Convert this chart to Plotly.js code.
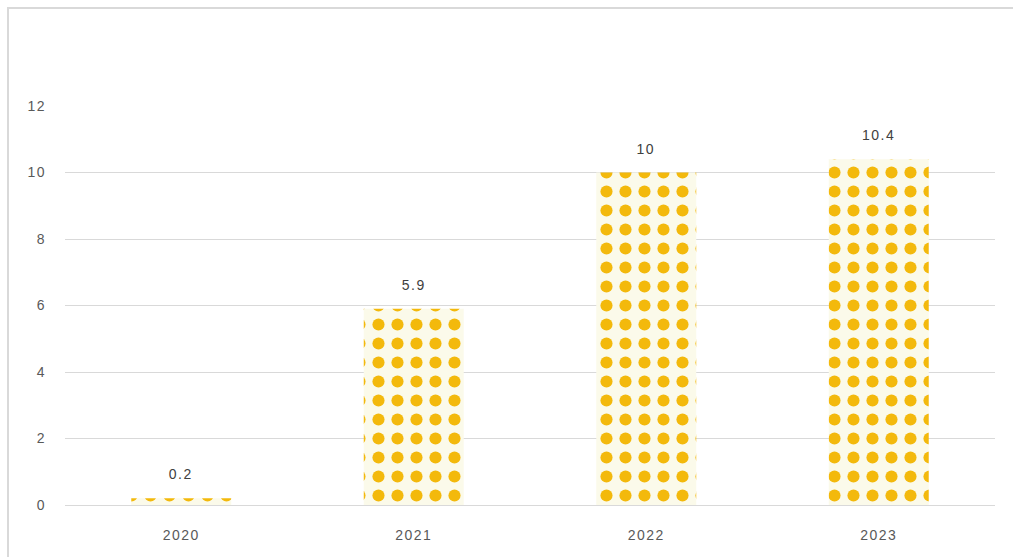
<!DOCTYPE html>
<html>
<head>
<meta charset="utf-8">
<script src="https://cdn.plot.ly/plotly-3.0.1.min.js"></script>
<style>
html,body{margin:0;padding:0;background:#fff;}
#chart{width:1013px;height:557px;}
#frame{position:absolute;left:7px;top:7px;width:1020px;height:560px;border-left:2px solid #d9d9d9;border-top:2px solid #d9d9d9;pointer-events:none;}
#chart text{letter-spacing:1.5px;}
</style>
</head>
<body>
<div id="chart"></div>
<div id="frame"></div>
<script>
const categories = ['2020', '2021', '2022', '2023'];
const values = [0.2, 5.9, 10, 10.4];
const labels = ['0.2', '5.9', '10', '10.4'];
const yTicks = [0, 2, 4, 6, 8, 10, 12];

const trace = {
  type: 'bar',
  x: categories,
  y: values,
  width: 0.43,
  marker: {
    color: '#F3B90C',
    line: {width: 0},
    pattern: {
      shape: '.',
      fillmode: 'replace',
      bgcolor: '#FBFAEA',
      fgcolor: '#F3B90C',
      size: 19,
      solidity: 0.32
    }
  },
  hoverinfo: 'skip'
};

const annotations = categories.map((c, i) => ({
  x: i, y: values[i], text: labels[i], showarrow: false,
  xref: 'x', yref: 'y',
  yanchor: 'bottom', yshift: 14,
  font: {family: 'Liberation Sans, Arial, sans-serif', size: 14, color: '#404040'}
}));

const layout = {
  width: 1013, height: 557,
  margin: {l: 65, r: 18, t: 106, b: 52},
  paper_bgcolor: '#ffffff',
  plot_bgcolor: '#ffffff',
  showlegend: false,
  xaxis: {
    type: 'category',
    range: [-0.5, 3.5],
    showgrid: false,
    zeroline: false,
    showline: false,
    ticks: '',
    tickfont: {family: 'Liberation Sans, Arial, sans-serif', size: 14, color: '#595959'},
    ticklabelstandoff: 20
  },
  yaxis: {
    range: [0, 12],
    tickvals: yTicks,
    ticktext: yTicks.map(String),
    showgrid: true,
    gridcolor: '#d9d9d9',
    gridwidth: 1,
    zeroline: true,
    zerolinecolor: '#d9d9d9',
    zerolinewidth: 1,
    showline: false,
    ticks: '',
    ticklabelstandoff: 18,
    tickfont: {family: 'Liberation Sans, Arial, sans-serif', size: 14, color: '#595959'}
  },
  annotations: annotations
};

Plotly.newPlot('chart', [trace], layout, {displayModeBar: false, staticPlot: true});
</script>
</body>
</html>
